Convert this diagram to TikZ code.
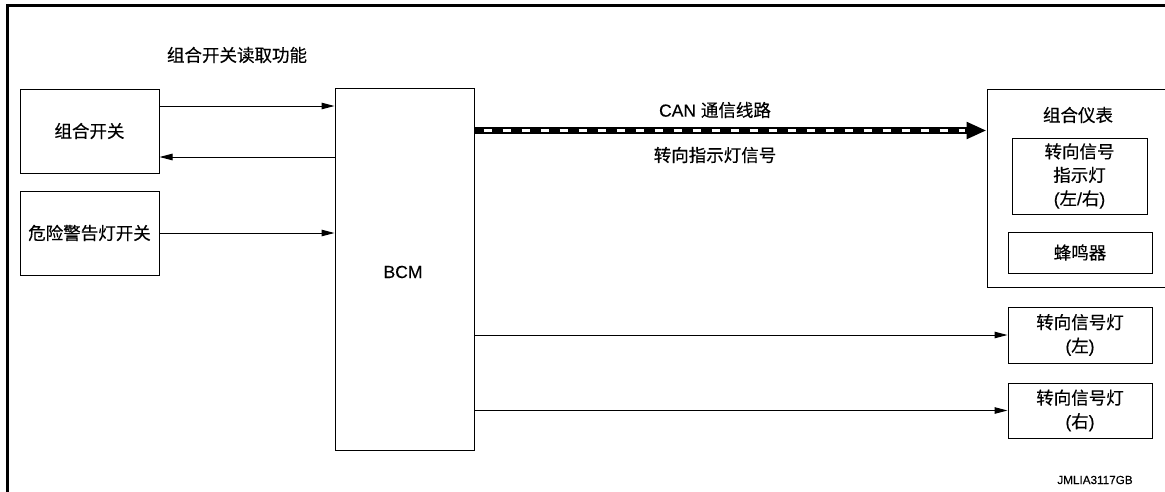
\documentclass[tikz,border=0pt]{standalone}
\usepackage{fontspec}
\setmainfont[FakeBold=0.3]{Liberation Sans}
\newfontfamily\cjk[FakeBold=0.4]{Noto Sans CJK SC}
\usetikzlibrary{arrows.meta}
\begin{document}
\begin{tikzpicture}[x=1pt,y=-1pt,
  every node/.style={font=\fontsize{17.5}{23.5}\selectfont},
  blk/.style={draw,line width=1pt,inner sep=0pt,align=center},
  arr/.style={line width=1pt,-{Triangle[length=13pt,width=6.5pt]}},
  lbl/.style={inner sep=0pt}]
\useasboundingbox (0,0) rectangle (1165,491);
\clip (0,0) rectangle (1165,491);
% frame
\draw[line width=3pt] (7.5,500) -- (7.5,5) -- (1175,5);
% title
\node[lbl] (title) at (237,55) {\cjk 组合开关读取功能};
% left boxes
\node[blk,minimum width=139pt,minimum height=84pt] (combsw) at (89.5,131) {\cjk 组合开关};
\node[blk,minimum width=139pt,minimum height=84pt] (hazard) at (89.5,233) {\cjk 危险警告灯开关};
% BCM
\node[blk,minimum width=139pt,minimum height=362pt] (bcm) at (404.5,269) {};
\node[lbl] (bcmt) at (403,272) {BCM};
% meter
\node[blk,minimum width=190pt,minimum height=198pt] (meter) at (1082,188) {};
\node[lbl] (metert) at (1078,115) {\cjk 组合仪表};
\node[blk,minimum width=135pt,minimum height=76pt] (ind) at (1079.5,176) {{\cjk 转向信号}\\{\cjk 指示灯}\\({\cjk 左}/{\cjk 右})};
\node[blk,minimum width=144pt,minimum height=41pt] (buz) at (1080,252.5) {\cjk 蜂鸣器};
% lamps
\node[blk,minimum width=144pt,minimum height=56pt] (lampl) at (1080,335) {{\cjk 转向信号灯}\\({\cjk 左})};
\node[blk,minimum width=144pt,minimum height=55pt] (lampr) at (1080,410.5) {{\cjk 转向信号灯}\\({\cjk 右})};
% arrows left
\draw[arr] ([yshift=25pt]combsw.east) -- ([yshift=25pt]combsw.east -| bcm.west);
\draw[arr] ([yshift=-26pt]combsw.east -| bcm.west) -- ([yshift=-26pt]combsw.east);
\draw[arr] (hazard.east) -- (hazard.east -| bcm.west);
% arrows right
\draw[arr] (lampl.west -| bcm.east) -- (lampl.west);
\draw[arr] (lampr.west -| bcm.east) -- (lampr.west);
% CAN line
\coordinate (canS) at (bcm.east |- 0,130.5);
\coordinate (canE) at (meter.west |- 0,130.5);
\draw[line width=7pt,-{Triangle[length=20pt,width=16pt]}] (canS) -- (canE);
\draw[white,line width=3.5pt,dash pattern=on 8pt off 11pt,dash phase=10pt] (canS) -- ([xshift=-22pt]canE);
\node[lbl] (cant) at (715,110) {CAN {\cjk 通信线路}};
\node[lbl] (sigt) at (715,155) {\cjk 转向指示灯信号};
% code
\node[lbl,font=\fontsize{11.7}{14}\selectfont] (code) at (1095,480) {JMLIA3117GB};
\end{tikzpicture}
\end{document}
